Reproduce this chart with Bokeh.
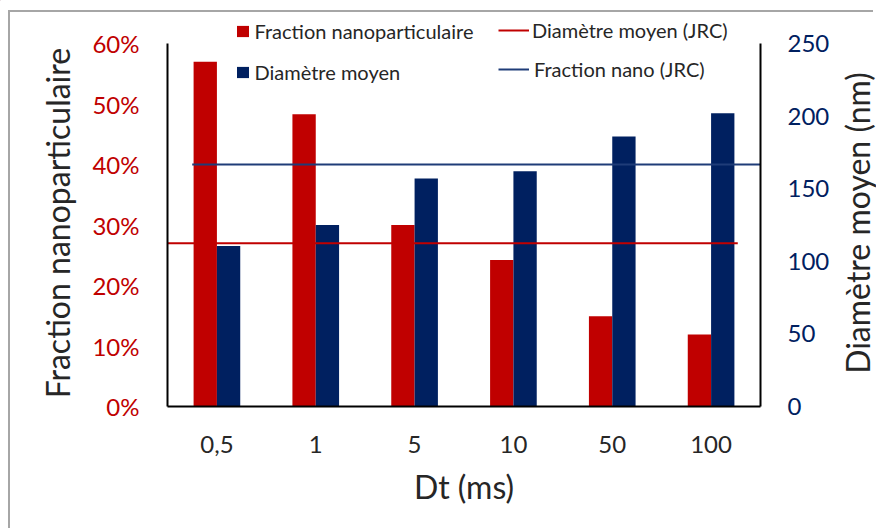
import math
from bokeh.plotting import figure
from bokeh.models import (FactorRange, Range1d, LinearAxis, NumeralTickFormatter,
                          FixedTicker, Legend, LegendItem, ColumnDataSource, Label)
from bokeh.transform import dodge
from bokeh.embed import file_html
from bokeh.resources import INLINE

# ---- data ----
dt_labels = ["0,5", "1", "5", "10", "50", "100"]
fraction_nano = [0.57, 0.483, 0.30, 0.242, 0.149, 0.119]
diametre_moyen = [110.5, 125, 157, 162, 186, 202]
jrc_fraction_nano = 0.40      # blue horizontal line (left axis)
jrc_diametre = 112.5          # red horizontal line (right axis, nm)
left_ticks = [0, 0.1, 0.2, 0.3, 0.4, 0.5, 0.6]
right_ticks = [0, 50, 100, 150, 200, 250]
left_max = 0.6
right_max = 250

RED = "#C00000"
NAVY = "#002060"
LBLUE = "#1F3C78"
FONT = "Lato"
TXT = "#262626"

# ---------------- main chart ----------------
W, H = 865, 518
p = figure(x_range=FactorRange(*dt_labels, range_padding=0, factor_padding=0),
           y_range=Range1d(0, left_max), width=W, height=H,
           output_backend="svg", toolbar_location=None,
           min_border_left=157, min_border_top=31, min_border_right=115,
           min_border_bottom=124)
p.styles = {"border-left": "2px solid #a6a6a6", "border-top": "2px solid #a6a6a6",
            "margin-left": "8px", "margin-top": "10px"}
p.extra_y_ranges = {"diam": Range1d(0, right_max)}
p.xgrid.grid_line_color = None
p.ygrid.grid_line_color = None
p.outline_line_color = None

src = ColumnDataSource(dict(dt=dt_labels, frac=fraction_nano, diam=diametre_moyen))

p.vbar(x=dodge("dt", -0.118, range=p.x_range), top="frac", width=0.236,
       source=src, fill_color=RED, line_color=None)
p.vbar(x=dodge("dt", 0.118, range=p.x_range), top="diam", width=0.236,
       source=src, fill_color=NAVY, line_color=None, y_range_name="diam")
p.line(x=[(dt_labels[0], -0.5), (dt_labels[-1], 0.27)],
       y=[jrc_diametre, jrc_diametre], line_color=RED, line_width=2,
       y_range_name="diam")
p.line(x=[(dt_labels[0], -0.25), (dt_labels[-1], 0.5)],
       y=[jrc_fraction_nano, jrc_fraction_nano], line_color=LBLUE, line_width=2)

yl = p.yaxis[0]
yl.ticker = FixedTicker(ticks=left_ticks)
yl.formatter = NumeralTickFormatter(format="0%")
yr = LinearAxis(y_range_name="diam", ticker=FixedTicker(ticks=right_ticks))
p.add_layout(yr, "right")
xa = p.xaxis[0]
xa.axis_label = "Dt (ms)"

for ax, col in ((yl, RED), (yr, NAVY), (xa, TXT)):
    ax.axis_line_color = "black"
    ax.axis_line_width = 2
    ax.major_tick_line_color = None
    ax.minor_tick_line_color = None
    ax.major_tick_out = 0
    ax.major_tick_in = 0
    ax.minor_tick_out = 0
    ax.major_label_text_font = FONT
    ax.major_label_text_font_size = "24px"
    ax.major_label_text_color = col
    ax.axis_label_text_font = FONT
    ax.axis_label_text_font_size = "32px"
    ax.axis_label_text_font_style = "normal"
    ax.axis_label_text_color = TXT
yl.major_label_standoff = 28
yr.major_label_standoff = 27
xa.major_label_standoff = 29
xa.axis_label_standoff = 11

# ---------------- overlay: legend rows and y-axis titles (page pixel coords) ----------------
OW, OH = 876, 531
o = figure(width=OW, height=OH, x_range=Range1d(0, OW), y_range=Range1d(OH, 0),
           output_backend="svg", toolbar_location=None, min_border=0,
           outline_line_color=None, background_fill_alpha=0, border_fill_alpha=0)
o.axis.visible = False
o.grid.visible = False
o.styles = {"position": "absolute", "left": "0px", "top": "0px", "z-index": "5",
            "pointer-events": "none"}

# legend keys (placed outside the visible area; only their legend glyphs show)
off = [-100]
k_red = o.vbar(x=off, top=off, bottom=[-120], width=1, fill_color=RED, line_color=None)
k_navy = o.vbar(x=off, top=off, bottom=[-120], width=1, fill_color=NAVY, line_color=None)
k_lred = o.line(x=[-100, -90], y=[-100, -100], line_color=RED, line_width=2)
k_lblue = o.line(x=[-100, -90], y=[-100, -100], line_color=LBLUE, line_width=2)


def add_legend(label, rend, vx, vy, gw, standoff):
    leg = Legend(items=[LegendItem(label=label, renderers=[rend])],
                 location=(vx, vy), padding=0, margin=0, spacing=0,
                 border_line_color=None, background_fill_alpha=0,
                 glyph_width=gw, glyph_height=14, label_standoff=standoff,
                 label_text_font=FONT, label_text_font_size="20px",
                 label_text_color=TXT, label_height=14)
    o.add_layout(leg, "center")


add_legend("Fraction nanoparticulaire", k_red, 234.5, OH - 43, 15, 5)
add_legend("Diamètre moyen (JRC)", k_lred, 498, OH - 42, 31, 3)
add_legend("Diamètre moyen", k_navy, 234.5, OH - 83.5, 15, 5)
add_legend("Fraction nano (JRC)", k_lblue, 498, OH - 80.5, 31, 5)

title_style = dict(angle=math.pi / 2, text_align="center", text_baseline="alphabetic",
                   text_font=FONT, text_font_size="32px", text_color=TXT)
o.add_layout(Label(x=57, y=222.5, text="Fraction nanoparticulaire", **title_style))
o.add_layout(Label(x=857, y=222.5, text="Diamètre moyen (nm)", **title_style))

open("out.html", "w").write(file_html([o, p], INLINE))
